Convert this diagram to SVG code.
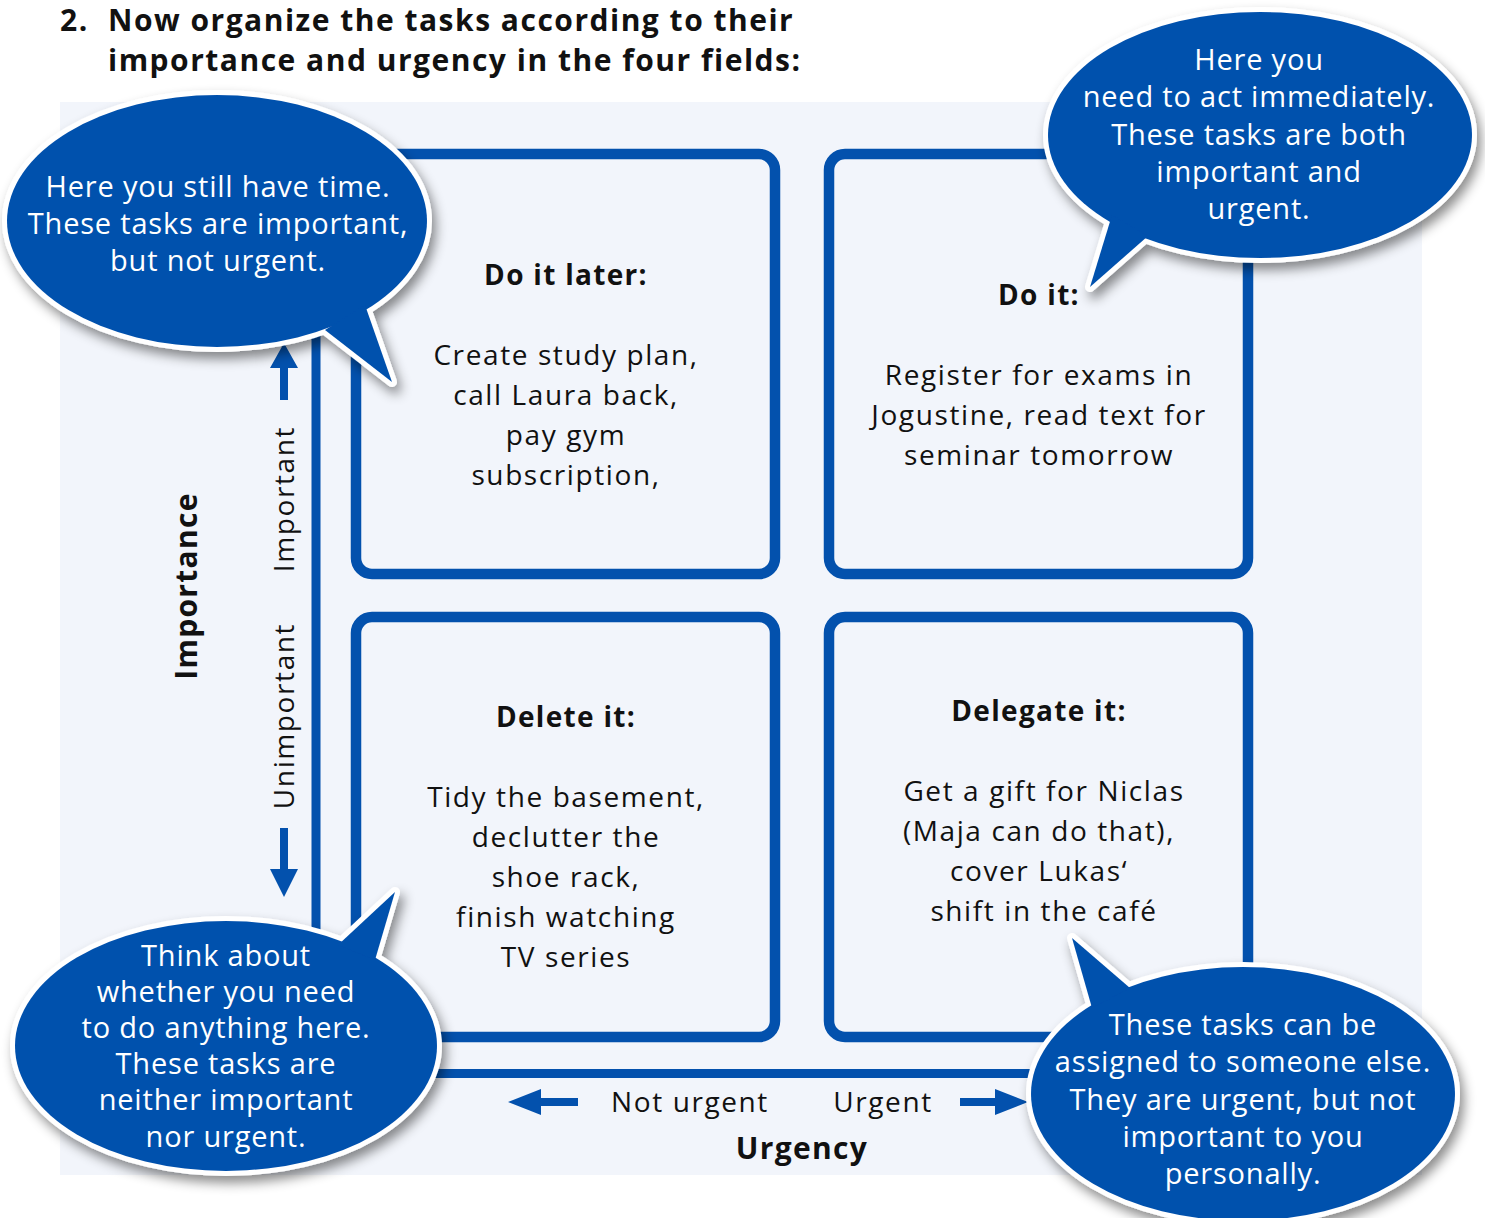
<svg xmlns="http://www.w3.org/2000/svg" width="1485" height="1218" viewBox="0 0 1485 1218">
<defs>
<style>
.t{font-family:"Open Sans","Noto Sans",sans-serif;fill:#111;letter-spacing:1.6px}
.b{font-weight:bold;letter-spacing:1.3px}
.ti{letter-spacing:1.5px}
.w{font-family:"Open Sans","Noto Sans",sans-serif;fill:#fff;font-size:29px;text-anchor:middle;letter-spacing:0.8px}
.bx{fill:none;stroke:#0351ad;stroke-width:10.5}
.ax{fill:#0351ad}
.bo{fill:#0351ad;stroke:#fff;stroke-width:10;stroke-linejoin:round}
.bf{fill:#0351ad}
.c{text-anchor:middle;font-size:28px}
</style>
<filter id="sh" x="-20%" y="-20%" width="140%" height="150%">
<feDropShadow dx="4" dy="7" stdDeviation="6" flood-color="#000" flood-opacity="0.45"/>
</filter>
</defs>
<rect width="1485" height="1218" fill="#fff"/>
<rect x="60" y="102" width="1362" height="1073" fill="#f2f5fb"/>
<g id="title" class="t b ti" font-size="30">
<text x="60" y="31">2.</text>
<text x="108" y="31">Now organize the tasks according to their</text>
<text x="108" y="71">importance and urgency in the four fields:</text>
</g>
<g id="connectors">
<rect x="311.5" y="150" width="9" height="928" class="ax"/>
<rect x="311.5" y="1069" width="730" height="9" class="ax"/>
<path class="ax" d="M284,343 L298,368 L288,368 L288,400 L280,400 L280,368 L270,368 Z"/>
<path class="ax" d="M284,897 L298,869 L288,869 L288,828 L280,828 L280,869 L270,869 Z"/>
<path class="ax" d="M508,1102 L541,1089 L541,1098 L578,1098 L578,1106 L541,1106 L541,1115 Z"/>
<path class="ax" d="M1028,1102 L995,1089 L995,1098 L960,1098 L960,1106 L995,1106 L995,1115 Z"/>
</g>
<g id="axis-labels" class="t">
<text transform="translate(294,499) rotate(-90)" font-size="28" text-anchor="middle">Important</text>
<text transform="translate(294,716) rotate(-90)" font-size="28" text-anchor="middle">Unimportant</text>
<text transform="translate(197,586) rotate(-90)" font-size="30" text-anchor="middle" class="b">Importance</text>
<text x="690" y="1112" font-size="28" text-anchor="middle">Not urgent</text>
<text x="883" y="1112" font-size="28" text-anchor="middle">Urgent</text>
<text x="802" y="1159" font-size="30" text-anchor="middle" class="b">Urgency</text>
</g>
<g id="do-it-later">
<rect x="356" y="154" width="419" height="420" rx="16" class="bx"/>
<g class="t c">
<text x="566" y="285" class="b">Do it later:</text>
<text x="566" y="365">Create study plan,</text>
<text x="566" y="405">call Laura back,</text>
<text x="566" y="445">pay gym</text>
<text x="566" y="485">subscription,</text>
</g>
</g>
<g id="do-it">
<rect x="829" y="154" width="419" height="420" rx="16" class="bx"/>
<g class="t c">
<text x="1039" y="305" class="b">Do it:</text>
<text x="1039" y="385">Register for exams in</text>
<text x="1039" y="425">Jogustine, read text for</text>
<text x="1039" y="465">seminar tomorrow</text>
</g>
</g>
<g id="delete-it">
<rect x="356" y="617" width="419" height="420" rx="16" class="bx"/>
<g class="t c">
<text x="566" y="727" class="b">Delete it:</text>
<text x="566" y="807">Tidy the basement,</text>
<text x="566" y="847">declutter the</text>
<text x="566" y="887">shoe rack,</text>
<text x="566" y="927">finish watching</text>
<text x="566" y="967">TV series</text>
</g>
</g>
<g id="delegate-it">
<rect x="829" y="617" width="419" height="420" rx="16" class="bx"/>
<g class="t c">
<text x="1039" y="721" class="b">Delegate it:</text>
<text x="1044" y="801">Get a gift for Niclas</text>
<text x="1039" y="841">(Maja can do that),</text>
<text x="1039" y="881">cover Lukas‘</text>
<text x="1044" y="921">shift in the café</text>
</g>
</g>
<g id="bubble-later">
<g filter="url(#sh)">
<ellipse cx="217" cy="221" rx="210" ry="126" class="bo"/>
<path d="M325,330 L392,382 L365,305 Z" class="bo"/>
<ellipse cx="217" cy="221" rx="210" ry="126" class="bf"/>
<path d="M325,330 L392,382 L365,305 Z" class="bf"/>
</g>
<text x="218" y="197" class="w">Here you still have time.</text>
<text x="218" y="234" class="w">These tasks are important,</text>
<text x="218" y="271" class="w">but not urgent.</text>
</g>
<g id="bubble-do">
<g filter="url(#sh)">
<ellipse cx="1260" cy="135" rx="212" ry="123" class="bo"/>
<path d="M1112,215 L1090,287 L1148,236 Z" class="bo"/>
<ellipse cx="1260" cy="135" rx="212" ry="123" class="bf"/>
<path d="M1112,215 L1090,287 L1148,236 Z" class="bf"/>
</g>
<text x="1259" y="70" class="w">Here you</text>
<text x="1259" y="107" class="w">need to act immediately.</text>
<text x="1259" y="145" class="w">These tasks are both</text>
<text x="1259" y="182" class="w">important and</text>
<text x="1259" y="219" class="w">urgent.</text>
</g>
<g id="bubble-delete">
<g filter="url(#sh)">
<ellipse cx="226" cy="1046" rx="211" ry="125" class="bo"/>
<path d="M338,945 L395,892 L375,960 Z" class="bo"/>
<ellipse cx="226" cy="1046" rx="211" ry="125" class="bf"/>
<path d="M338,945 L395,892 L375,960 Z" class="bf"/>
</g>
<text x="226" y="966" class="w">Think about</text>
<text x="226" y="1002" class="w">whether you need</text>
<text x="226" y="1038" class="w">to do anything here.</text>
<text x="226" y="1074" class="w">These tasks are</text>
<text x="226" y="1110" class="w">neither important</text>
<text x="226" y="1147" class="w">nor urgent.</text>
</g>
<g id="bubble-delegate">
<g filter="url(#sh)">
<ellipse cx="1243" cy="1094" rx="212" ry="127" class="bo"/>
<path d="M1092,1008 L1072,938 L1130,988 Z" class="bo"/>
<ellipse cx="1243" cy="1094" rx="212" ry="127" class="bf"/>
<path d="M1092,1008 L1072,938 L1130,988 Z" class="bf"/>
</g>
<text x="1243" y="1035" class="w">These tasks can be</text>
<text x="1243" y="1072" class="w">assigned to someone else.</text>
<text x="1243" y="1110" class="w">They are urgent, but not</text>
<text x="1243" y="1147" class="w">important to you</text>
<text x="1243" y="1184" class="w">personally.</text>
</g>
</svg>
